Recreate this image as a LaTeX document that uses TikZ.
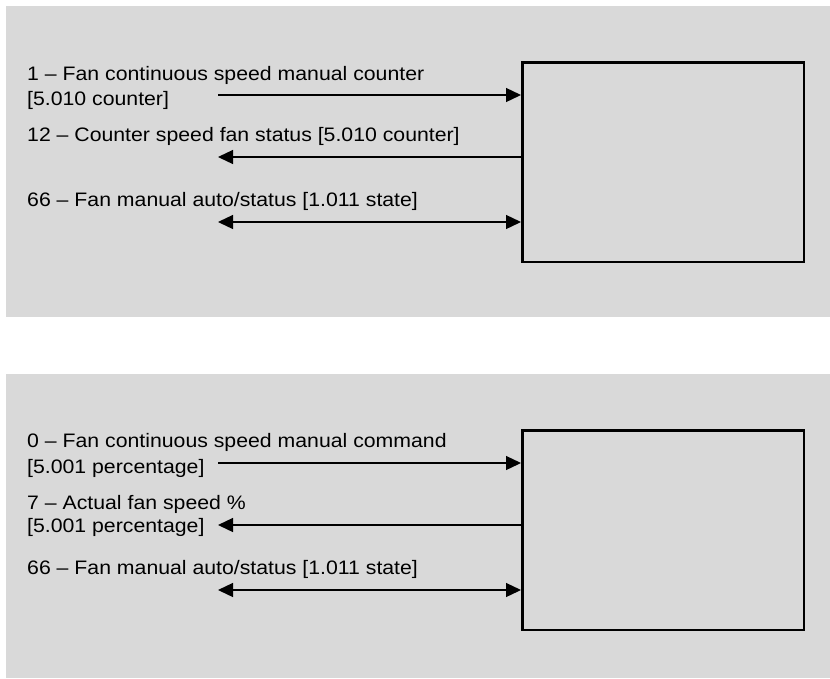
\documentclass[tikz,border=0pt]{standalone}
\usepackage{fontspec}
\setmainfont[FakeStretch=1.09]{Liberation Sans}
\usetikzlibrary{arrows.meta}

\definecolor{panelgray}{RGB}{217,217,217}

\tikzset{
    panel/.style={fill=panelgray, draw=none},
    block/.style={draw, line width=2.5pt, minimum width=281.5pt, minimum height=199.5pt, anchor=north west, inner sep=0pt},
    label/.style={anchor=base west, inner sep=0pt, font=\fontsize{19.5}{24}\selectfont},
    link/.style={line width=1.3pt},
    >={Triangle[length=15pt, width=14pt]}
}

\begin{document}
\begin{tikzpicture}[x=1pt, y=-1pt]
        \useasboundingbox (0,0) rectangle (830,678);

        % upper panel
        \fill[panel] (6,6) rectangle (830,317);
        \node[block]  (box 1)    at (521,61)  {};
        \node[label]  (text 1a)  at (27,80)   {1 – Fan continuous speed manual counter};
        \node[label]  (text 1b)  at (27,105)  {[5.010 counter]};
        \node[label]  (text 2)   at (27,141)  {12 – Counter speed fan status [5.010 counter]};
        \node[label]  (text 3)   at (27,206)  {66 – Fan manual auto/status [1.011 state]};
        \coordinate   (end 1)    at (218,95);
        \coordinate   (end 2)    at (218,157);
        \coordinate   (end 3)    at (218,222);

        \draw[link, ->]  (end 1) -- (end 1 -| box 1.west);
        \draw[link, ->]  (end 2 -| box 1.west) -- (end 2);
        \draw[link, <->] (end 3) -- (end 3 -| box 1.west);

        % lower panel
        \fill[panel] (6,374) rectangle (830,678);
        \node[block]  (box 2)    at (521,429) {};
        \node[label]  (text 4a)  at (27,447)  {0 – Fan continuous speed manual command};
        \node[label]  (text 4b)  at (27,473)  {[5.001 percentage]};
        \node[label]  (text 5a)  at (27,509)  {7 – Actual fan speed \%};
        \node[label]  (text 5b)  at (27,532)  {[5.001 percentage]};
        \node[label]  (text 6)   at (27,574)  {66 – Fan manual auto/status [1.011 state]};
        \coordinate   (end 4)    at (218,463);
        \coordinate   (end 5)    at (218,525);
        \coordinate   (end 6)    at (218,590);

        \draw[link, ->]  (end 4) -- (end 4 -| box 2.west);
        \draw[link, ->]  (end 5 -| box 2.west) -- (end 5);
        \draw[link, <->] (end 6) -- (end 6 -| box 2.west);
    \end{tikzpicture}
\end{document}
